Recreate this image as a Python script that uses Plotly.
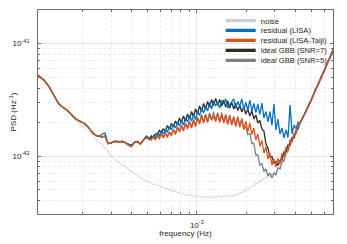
import numpy as np
import plotly.graph_objects as go

# ---------------- data (frequency in mHz, PSD in units of 1e-42 Hz^-1) ----------------
freq_mhz = [
    0.105, 0.110, 0.115, 0.120, 0.125, 0.130, 0.136, 0.142, 0.148, 0.154,
    0.160, 0.167, 0.174, 0.181, 0.189, 0.197, 0.205, 0.214, 0.223, 0.232,
    0.242, 0.252, 0.263, 0.274, 0.286, 0.298, 0.311, 0.324, 0.338, 0.352,
    0.367, 0.383, 0.399, 0.416, 0.434, 0.452, 0.471, 0.491, 0.512,
    0.527, 0.542, 0.557, 0.573, 0.590, 0.607, 0.624, 0.642, 0.660, 0.679,
    0.699, 0.719, 0.740, 0.761, 0.783, 0.805, 0.828, 0.852, 0.877, 0.902,
    0.928, 0.955, 0.982, 1.010, 1.039, 1.069, 1.100, 1.131, 1.164, 1.197,
    1.232, 1.267, 1.303, 1.341, 1.379, 1.419, 1.460, 1.502, 1.545, 1.589,
    1.635, 1.682, 1.730, 1.780, 1.831, 1.884, 1.938, 1.994, 2.051, 2.110,
    2.171, 2.233, 2.297, 2.363, 2.431, 2.501, 2.573, 2.647, 2.723, 2.801,
    2.881, 2.964, 3.049, 3.137, 3.227, 3.320, 3.415, 3.513, 3.614, 3.718,
    3.825, 3.935, 4.048, 4.164, 4.284,
    4.47, 4.66, 4.86, 5.07, 5.29, 5.52, 5.76, 6.01, 6.27, 6.54, 6.82, 7.10,
]

psd_noise = [
    5.28, 5.02, 4.77, 4.44, 4.10, 3.70, 3.30, 2.95, 2.76, 2.64,
    2.52, 2.36, 2.195, 2.065, 1.963, 1.884, 1.808, 1.718, 1.617, 1.505,
    1.41, 1.31, 1.28, 1.17, 1.12, 0.99, 0.95, 0.89, 0.87, 0.82,
    0.815, 0.755, 0.735, 0.69, 0.68, 0.635, 0.625, 0.598, 0.59,
    0.576, 0.553, 0.57, 0.542, 0.553, 0.525, 0.536, 0.51, 0.52, 0.494,
    0.505, 0.479, 0.494, 0.47, 0.474, 0.455, 0.47, 0.446, 0.46, 0.442,
    0.455, 0.433, 0.446, 0.428, 0.442, 0.424, 0.437, 0.424, 0.442, 0.42,
    0.437, 0.424, 0.442, 0.428, 0.446, 0.428, 0.446, 0.433, 0.451, 0.433,
    0.451, 0.437, 0.46, 0.451, 0.474, 0.47, 0.494, 0.489, 0.515, 0.52,
    0.548, 0.537, 0.575, 0.566, 0.606, 0.595, 0.638, 0.626, 0.672, 0.66,
    0.692, 0.70, 0.736, 0.767, 0.815, 0.858, 0.922, 1.0, 1.107, 1.227,
    1.359, 1.474, 1.617, 1.772, 1.98,
    2.19, 2.49, 2.82, 3.25, 3.76, 4.30, 4.91, 5.67, 6.54, 7.55, 8.71, 10.05,
]

psd_lisa = [
    5.28, 5.02, 4.77, 4.44, 4.10, 3.70, 3.30, 2.95, 2.78, 2.675,
    2.56, 2.41, 2.265, 2.14, 2.065, 2.01, 1.943, 1.838, 1.718, 1.59,
    1.52, 1.489, 1.56, 1.60, 1.291, 1.304, 1.345, 1.345, 1.331, 1.345,
    1.304, 1.265, 1.24, 1.331, 1.345, 1.278, 1.387, 1.489, 1.415,
    1.445, 1.505, 1.445, 1.6, 1.52, 1.667, 1.584, 1.684, 1.633, 1.808,
    1.708, 1.903, 1.772, 1.983, 1.846, 2.045, 1.884, 2.174, 2.003, 2.287,
    2.045, 2.311, 2.108, 2.482, 2.287, 2.64, 2.407, 2.75, 2.508, 2.953,
    2.612, 3.076, 2.80, 2.95, 2.667, 3.108, 2.90, 3.21, 2.667, 2.85,
    3.0, 3.21, 2.667, 3.045, 2.76, 3.21, 2.585, 2.983, 2.534, 3.14,
    2.508, 2.923, 2.432, 2.893, 2.335, 2.953, 2.174, 2.482, 2.003, 2.482,
    1.865, 2.893, 1.701, 2.13, 1.568, 1.772, 1.445, 1.701, 1.46, 2.835,
    1.568, 1.884, 1.736, 2.003, 1.943,
    2.26, 2.47, 2.90, 3.22, 3.85, 4.25, 5.0, 5.6, 6.65, 7.45, 8.85, 10.0,
]

psd_lisa_taiji = [
    5.28, 5.02, 4.77, 4.44, 4.10, 3.70, 3.30, 2.95, 2.78, 2.675,
    2.56, 2.41, 2.265, 2.14, 2.065, 2.01, 1.943, 1.838, 1.718, 1.59,
    1.52, 1.489, 1.474, 1.505, 1.291, 1.304, 1.345, 1.345, 1.331, 1.345,
    1.304, 1.24, 1.21, 1.331, 1.345, 1.278, 1.387, 1.46, 1.40,
    1.387, 1.474, 1.387, 1.505, 1.415, 1.552, 1.445, 1.584, 1.46, 1.617,
    1.505, 1.701, 1.552, 1.79, 1.633, 1.846, 1.667, 1.923, 1.736, 2.003,
    1.772, 2.065, 1.827, 2.174, 1.923, 2.287, 1.963, 2.311, 1.983, 2.359,
    2.10, 2.25, 2.024, 2.407, 2.0, 2.30, 1.963, 2.287, 1.903, 2.264,
    1.884, 2.196, 1.827, 2.196, 1.808, 2.108, 1.718, 2.024, 1.65, 1.963,
    1.552, 1.772, 1.387, 1.568, 1.214, 1.373, 1.063, 1.202, 0.94, 1.063,
    0.832, 0.94, 0.799, 0.95, 0.858, 1.053, 0.98, 1.202, 1.142, 1.387,
    1.345, 1.584, 1.584, 1.846, 1.963,
    2.20, 2.54, 2.80, 3.31, 3.73, 4.36, 4.86, 5.74, 6.48, 7.62, 8.65, 10.1,
]

psd_gbb_snr7 = [
    5.28, 5.02, 4.77, 4.44, 4.10, 3.70, 3.30, 2.95, 2.78, 2.675,
    2.56, 2.41, 2.265, 2.14, 2.065, 2.01, 1.943, 1.838, 1.718, 1.59,
    1.52, 1.489, 1.474, 1.505, 1.291, 1.304, 1.345, 1.345, 1.331, 1.345,
    1.304, 1.265, 1.24, 1.331, 1.345, 1.278, 1.40, 1.50, 1.43,
    1.505, 1.46, 1.568, 1.552, 1.684, 1.6, 1.754, 1.65, 1.865, 1.736,
    1.943, 1.808, 2.045, 1.903, 2.174, 1.983, 2.264, 2.045, 2.359, 2.13,
    2.482, 2.241, 2.612, 2.359, 2.778, 2.508, 2.923, 2.612, 3.045, 2.721,
    3.173, 2.806, 3.243, 2.835, 3.173, 2.778, 3.14, 2.721, 3.076, 2.667,
    2.983, 2.612, 2.923, 2.534, 2.806, 2.457, 2.721, 2.359, 2.612, 2.264,
    2.508, 2.13, 2.311, 1.963, 2.065, 1.736, 1.667, 1.278, 1.178, 0.98,
    0.99, 0.867, 0.894, 0.823, 0.912, 0.931, 1.085, 1.074, 1.252, 1.252,
    1.46, 1.445, 1.684, 1.736, 1.98,
    2.218, 2.508, 2.835, 3.27, 3.775, 4.31, 4.92, 5.68, 6.55, 7.56, 8.72, 10.06,
]

psd_gbb_snr5 = [
    5.28, 5.02, 4.77, 4.44, 4.10, 3.70, 3.30, 2.95, 2.78, 2.675,
    2.56, 2.41, 2.265, 2.14, 2.065, 2.01, 1.943, 1.838, 1.718, 1.59,
    1.52, 1.489, 1.474, 1.505, 1.291, 1.304, 1.345, 1.345, 1.331, 1.345,
    1.304, 1.24, 1.21, 1.331, 1.345, 1.278, 1.387, 1.46, 1.40,
    1.415, 1.505, 1.415, 1.536, 1.445, 1.584, 1.474, 1.617, 1.49, 1.65,
    1.536, 1.736, 1.584, 1.827, 1.667, 1.884, 1.701, 1.963, 1.772, 2.045,
    1.808, 2.108, 1.865, 2.218, 1.963, 2.335, 2.003, 2.359, 2.024, 2.407,
    2.065, 2.457, 2.065, 2.407, 2.003, 2.432, 2.003, 2.335, 1.943, 2.311,
    1.923, 2.241, 1.865, 2.241, 1.846, 2.152, 1.772,
    1.808, 1.552, 1.584, 1.291, 1.291, 1.021, 1.021, 0.832, 0.858, 0.729,
    0.767, 0.665, 0.707, 0.638, 0.707, 0.678, 0.783, 0.767, 0.903, 0.903,
    1.074, 1.107, 1.331, 1.345, 1.552, 1.6, 1.827, 1.98,
    2.21, 2.50, 2.83, 3.26, 3.77, 4.30, 4.92, 5.68, 6.55, 7.56, 8.72, 10.06,
]

legend_names = ["noise", "residual (LISA)", "residual (LISA-Taiji)",
                "ideal GBB (SNR=7)", "ideal GBB (SNR=5)"]

x_minor_ticks = [2e-4, 3e-4, 4e-4, 5e-4, 6e-4, 7e-4, 8e-4, 9e-4,
                 2e-3, 3e-3, 4e-3, 5e-3, 6e-3]
y_minor_ticks = [4e-43, 5e-43, 6e-43, 7e-43, 8e-43, 9e-43,
                 2e-42, 3e-42, 4e-42, 5e-42, 6e-42, 7e-42, 8e-42, 9e-42]

F_UNIT = 1e-3
P_UNIT = 1e-42

# ---------------- style ----------------
colors = {
    "noise": "#cfcfcf",
    "residual (LISA)": "#0072BD",
    "residual (LISA-Taiji)": "#D95319",
    "ideal GBB (SNR=7)": "#2b2b2b",
    "ideal GBB (SNR=5)": "#7f7f7f",
}
values = {
    "noise": psd_noise,
    "residual (LISA)": psd_lisa,
    "residual (LISA-Taiji)": psd_lisa_taiji,
    "ideal GBB (SNR=7)": psd_gbb_snr7,
    "ideal GBB (SNR=5)": psd_gbb_snr5,
}
widths = {
    "noise": 1.0,
    "residual (LISA)": 1.3,
    "residual (LISA-Taiji)": 1.3,
    "ideal GBB (SNR=7)": 1.3,
    "ideal GBB (SNR=5)": 1.3,
}
draw_order = ["noise", "ideal GBB (SNR=7)", "ideal GBB (SNR=5)",
              "residual (LISA)", "residual (LISA-Taiji)"]

FONT = "Liberation Sans, Arial, Helvetica, sans-serif"
TXT = "#262626"
AX = "#6b6b6b"

# page body has an 8px margin, so the figure is laid out 8px right/down
PAGE_OFF = 8
PLOT_L, PLOT_R, PLOT_T, PLOT_B = 38, 333, 10, 214   # plot area in window pixels
W, H = 347, 244

f = np.array(freq_mhz) * F_UNIT

fig = go.Figure()
for name in draw_order:
    fig.add_trace(go.Scatter(
        x=f, y=np.array(values[name]) * P_UNIT, mode="lines",
        line=dict(color=colors[name], width=widths[name]),
        showlegend=False, hoverinfo="skip"))

# legend entries (one legend per row so rows can be packed tightly)
row_px = [20.7, 30.4, 40.3, 50.3, 60.4]
plot_h = PLOT_B - PLOT_T
plot_w = PLOT_R - PLOT_L
legend_layout = {}
for k, name in enumerate(legend_names):
    lg = "legend" if k == 0 else f"legend{k+1}"
    fig.add_trace(go.Scatter(
        x=[None], y=[None], mode="lines", name=name,
        line=dict(color=colors[name], width=3.2),
        legend=lg, showlegend=True, hoverinfo="skip"))
    legend_layout[lg] = dict(
        x=(220.7 - PLOT_L) / plot_w, xanchor="left",
        y=(PLOT_B - row_px[k]) / plot_h, yanchor="middle",
        bgcolor="rgba(0,0,0,0)", borderwidth=0,
        font=dict(family=FONT, size=7.6, color=TXT),
        itemwidth=30, tracegroupgap=0,
    )

fig.update_layout(
    width=W, height=H,
    margin=dict(l=PLOT_L - PAGE_OFF, r=W - PLOT_R + PAGE_OFF,
                t=PLOT_T - PAGE_OFF, b=H - PLOT_B + PAGE_OFF, autoexpand=False),
    paper_bgcolor="white", plot_bgcolor="white",
    font=dict(family=FONT, size=8, color=TXT),
    **legend_layout,
    shapes=[dict(type="rect", xref="paper", yref="paper",
                 x0=(223 - PLOT_L) / plot_w, x1=(329 - PLOT_L) / plot_w,
                 y0=(PLOT_B - 66) / plot_h, y1=(PLOT_B - 14) / plot_h,
                 fillcolor="white", line=dict(width=0), layer="between")],
)

fig.update_xaxes(
    type="log", automargin=False,
    range=[np.log10(1.067e-4), np.log10(6.81e-3)],
    tickvals=[1e-3], ticktext=["10<sup>-3</sup>"],
    ticks="inside", ticklen=3, tickwidth=0.8, tickcolor=AX,
    showline=True, linecolor=AX, linewidth=0.8, mirror="ticks",
    showgrid=True, gridcolor="#e6e6e6", gridwidth=0.8,
    zeroline=False,
    tickfont=dict(family=FONT, size=8, color=TXT),
    ticklabelstandoff=3,
    minor=dict(tickvals=x_minor_ticks, ticks="inside", ticklen=2,
               tickwidth=0.7, tickcolor=AX, showgrid=True,
               gridcolor="#ededed", gridwidth=0.7, griddash="3px,2px"),
    title=dict(text="frequency (Hz)", font=dict(family=FONT, size=8, color=TXT),
               standoff=0),
)
fig.update_yaxes(
    type="log", automargin=False,
    range=[-42.5146, -40.7045],
    tickvals=[1e-42, 1e-41], ticktext=["10<sup>-42</sup>", "10<sup>-41</sup>"],
    ticks="inside", ticklen=3, tickwidth=0.8, tickcolor=AX,
    showline=True, linecolor=AX, linewidth=0.8, mirror="ticks",
    showgrid=True, gridcolor="#e6e6e6", gridwidth=0.8,
    zeroline=False,
    tickfont=dict(family=FONT, size=8, color=TXT),
    ticklabelstandoff=6,
    minor=dict(tickvals=y_minor_ticks, ticks="inside", ticklen=2,
               tickwidth=0.7, tickcolor=AX, showgrid=True,
               gridcolor="#ededed", gridwidth=0.7, griddash="3px,2px"),
    title=dict(text="PSD (Hz<sup>-1</sup>)", font=dict(family=FONT, size=8, color=TXT),
               standoff=5),
)

fig.write_html("out.html")
